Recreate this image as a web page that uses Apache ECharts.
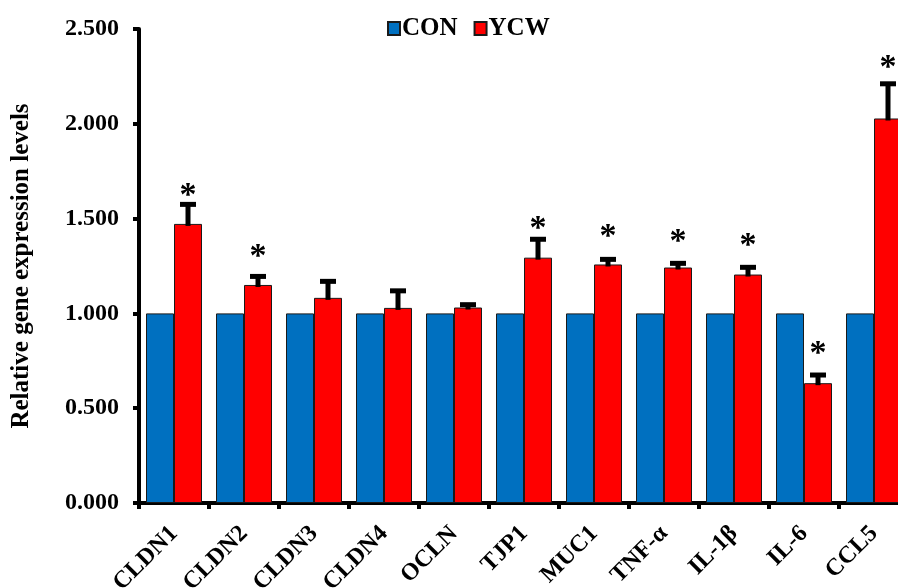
<!DOCTYPE html>
<html>
<head>
<meta charset="utf-8">
<script src="https://cdn.jsdelivr.net/npm/echarts@6/dist/echarts.min.js"></script>
<style>
  html, body { margin: 0; padding: 0; background: #fff; }
  #chart { width: 898px; height: 588px; }
</style>
</head>
<body>
<div id="chart"></div>
<script>
// Gene names on the category axis
const genes = ['CLDN1', 'CLDN2', 'CLDN3', 'CLDN4', 'OCLN', 'TJP1', 'MUC1', 'TNF-α', 'IL-1β', 'IL-6', 'CCL5'];
// Relative expression, control group
const conValues = [1, 1, 1, 1, 1, 1, 1, 1, 1, 1, 1];
// Relative expression, YCW group
const ycwValues = [1.472, 1.150, 1.082, 1.029, 1.031, 1.294, 1.258, 1.242, 1.205, 0.632, 2.028];
// Standard error for the YCW group (upper whisker only)
const ycwErrors = [0.103, 0.045, 0.087, 0.090, 0.015, 0.097, 0.027, 0.022, 0.038, 0.043, 0.183];
// Height at which a significance star is placed (null = not significant)
const starLevels = [1.668, 1.342, null, null, null, 1.491, 1.447, 1.425, 1.404, 0.830, 2.343];
// Y axis tick range
const yMin = 0, yMax = 2.5, yStep = 0.5;

const FONT = '"Liberation Serif", "Times New Roman", serif';
const chart = echarts.init(document.getElementById('chart'), null, { renderer: 'canvas' });

const errData = ycwValues.map((v, i) => [i, v, ycwErrors[i]]);
const starData = starLevels.map((s, i) => (s == null ? null : [i, s])).filter(d => d);

function renderError(params, api) {
  const i = api.value(0), v = api.value(1), e = api.value(2);
  const catW = api.size([1, 0])[0];
  const base = api.coord([i, v]);
  const top = api.coord([i, v + e]);
  const x = base[0] + catW * 0.2;
  return {
    type: 'group',
    children: [
      { type: 'line', shape: { x1: x, y1: base[1] + 2, x2: x, y2: top[1] }, style: { stroke: '#000', lineWidth: 5 } },
      { type: 'line', shape: { x1: x - 8, y1: top[1], x2: x + 8, y2: top[1] }, style: { stroke: '#000', lineWidth: 5 } }
    ]
  };
}

function renderStar(params, api) {
  const i = api.value(0), s = api.value(1);
  const catW = api.size([1, 0])[0];
  const p = api.coord([i, s]);
  return {
    type: 'text',
    style: {
      text: '*', x: p[0] + catW * 0.2, y: p[1] + 9,
      textAlign: 'center', textVerticalAlign: 'middle',
      font: 'bold 34px ' + FONT, fill: '#000'
    }
  };
}

chart.setOption({
  backgroundColor: '#fff',
  animation: false,
  legend: {
    data: ['CON', 'YCW'],
    left: 382, top: 11,
    icon: 'rect', itemWidth: 12, itemHeight: 13, itemGap: 16,
    textStyle: { fontFamily: FONT, fontWeight: 'bold', fontSize: 25, color: '#000', padding: [0, 0, 0, -3] }
  },
  grid: { left: 139, right: -11, top: 29, bottom: 85, containLabel: false, outerBoundsMode: 'none' },
  xAxis: {
    type: 'category',
    data: genes,
    axisLine: { lineStyle: { color: '#000', width: 4 } },
    axisTick: { show: true, length: 6, lineStyle: { color: '#000', width: 4 } },
    axisLabel: {
      rotate: 45, margin: 27, interval: 0,
      fontFamily: FONT, fontWeight: 'bold', fontSize: 24, color: '#000'
    },
    splitLine: { show: false }
  },
  yAxis: {
    type: 'value',
    min: yMin, max: yMax, interval: yStep,
    name: 'Relative gene expression levels',
    nameLocation: 'middle', nameGap: 105, nameRotate: 90,
    nameTextStyle: { fontFamily: FONT, fontWeight: 'bold', fontSize: 25, color: '#000' },
    axisLine: { show: true, lineStyle: { color: '#000', width: 4 } },
    axisTick: { show: true, length: 6, lineStyle: { color: '#000', width: 4 } },
    axisLabel: {
      margin: 20, formatter: v => v.toFixed(3),
      fontFamily: FONT, fontWeight: 'bold', fontSize: 24, color: '#000'
    },
    splitLine: { show: false }
  },
  series: [
    {
      name: 'CON', type: 'bar', data: conValues,
      barGap: '0%', barCategoryGap: '20%',
      itemStyle: { color: '#0070C0', borderColor: '#1a1a1a', borderWidth: 1 }
    },
    {
      name: 'YCW', type: 'bar', data: ycwValues,
      barGap: '0%', barCategoryGap: '20%',
      itemStyle: { color: '#FF0000', borderColor: '#1a1a1a', borderWidth: 1 }
    },
    {
      name: 'err', type: 'custom', data: errData, renderItem: renderError, z: 5, silent: true
    },
    {
      name: 'sig', type: 'custom', data: starData, renderItem: renderStar, z: 6, silent: true
    }
  ]
});
</script>
</body>
</html>
